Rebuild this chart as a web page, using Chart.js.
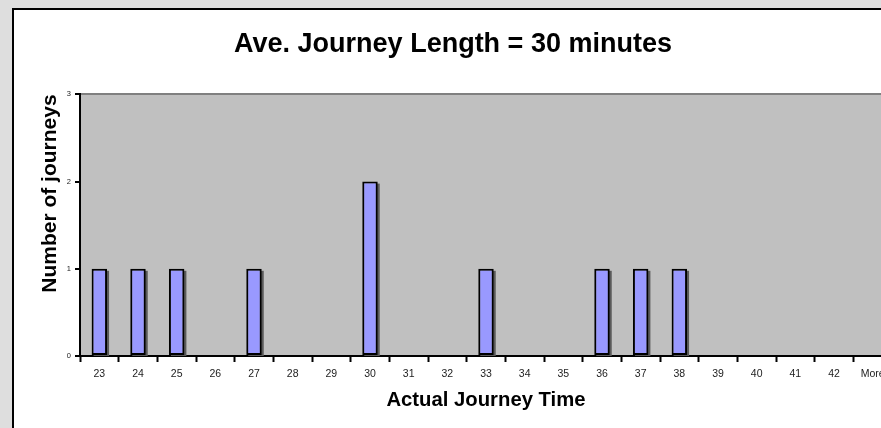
<!DOCTYPE html>
<html>
<head>
<meta charset="utf-8">
<script src="https://cdn.jsdelivr.net/npm/chart.js@4.4.1/dist/chart.umd.min.js"></script>
<style>
    html, body {
        margin: 0;
        padding: 0;
        width: 881px;
        height: 428px;
        overflow: hidden;
        background: #dedede;
    }
    .frame {
        position: absolute;
        left: 12px;
        top: 8px;
        width: 900px;
        height: 430px;
        background: #fff;
        border-left: 2px solid #000;
        border-top: 2px solid #000;
    }
    .chart-box {
        position: absolute;
        left: 0;
        top: 0;
        width: 885px;
        height: 418px;
    }
</style>
</head>
<body>
<div class="frame">
    <div class="chart-box"><canvas id="journeyChart"></canvas></div>
</div>
<script>
// Гистограмма времени в пути
const journeyTimes = ['23', '24', '25', '26', '27', '28', '29', '30', '31', '32', '33',
    '34', '35', '36', '37', '38', '39', '40', '41', '42', 'More'];
const journeyCounts = [1, 1, 1, 0, 1, 0, 0, 2, 0, 0, 1, 0, 0, 1, 1, 1, 0, 0, 0, 0, 0];
const countTicks = [0, 1, 2, 3];

const FONT = 'Arial, "Liberation Sans", sans-serif';

// серый фон области построения и тень у столбцов
const plotArea = {
    id: 'plotArea',
    beforeDraw(chart) {
        const { ctx, chartArea: a } = chart;
        ctx.save();
        ctx.fillStyle = '#c0c0c0';
        ctx.fillRect(a.left, a.top, a.right - a.left, a.bottom - a.top);
        ctx.restore();
    },
    beforeDatasetsDraw(chart) {
        // тень рисуем отдельно: BarElement обрезает рамку по своему прямоугольнику
        const { ctx, chartArea: a } = chart;
        ctx.save();
        ctx.beginPath();
        ctx.rect(a.left, a.top, a.right - a.left, a.bottom - a.top);
        ctx.clip();
        ctx.fillStyle = '#5a5a5a';
        chart.getDatasetMeta(0).data.forEach((bar) => {
            const p = bar.getProps(['x', 'y', 'base', 'width'], true);
            if (p.base - p.y < 1) return;
            ctx.fillRect(p.x - p.width / 2 + 2, p.y + 2, p.width, p.base - p.y);
        });
        ctx.restore();
    }
};

const ctx = document.getElementById('journeyChart').getContext('2d');
const journeyChart = new Chart(ctx, {
    type: 'bar',
    data: {
        labels: journeyTimes,
        datasets: [{
            label: 'Number of journeys',
            data: journeyCounts,
            backgroundColor: '#9999ff',
            borderColor: '#000',
            borderWidth: 2,
            borderSkipped: false,
            barPercentage: 0.4,
            categoryPercentage: 1
        }]
    },
    options: {
        responsive: true,
        maintainAspectRatio: false,
        animation: false,
        layout: { padding: { left: 0, right: 7, top: 0, bottom: 0 } },
        plugins: {
            legend: { display: false },
            tooltip: { enabled: false },
            title: {
                display: true,
                text: 'Ave. Journey Length = 30 minutes',
                color: '#000',
                font: { family: FONT, size: 27, weight: 'bold', lineHeight: 1.2 },
                padding: { top: 18, bottom: 34 }
            }
        },
        scales: {
            x: {
                offset: true,
                grid: {
                    display: true,
                    offset: true,
                    drawOnChartArea: false,
                    tickLength: 6,
                    tickColor: '#000',
                    tickWidth: 2
                },
                border: { color: '#000', width: 2 },
                ticks: {
                    color: '#222',
                    padding: 6,
                    maxRotation: 0,
                    autoSkip: false,
                    font: { family: FONT, size: 10.5 }
                },
                title: {
                    display: true,
                    text: 'Actual Journey Time',
                    color: '#000',
                    font: { family: FONT, size: 20.3, weight: 'bold', lineHeight: 1.2 },
                    padding: { top: 0, bottom: 15 }
                },
                afterFit(scale) { scale.height = 72; }
            },
            y: {
                min: countTicks[0],
                max: countTicks[countTicks.length - 1],
                ticks: {
                    stepSize: 1,
                    color: '#222',
                    padding: 4,
                    font: { family: FONT, size: 7.5 }
                },
                grid: {
                    color: (c) => c.tick && c.tick.value === countTicks[countTicks.length - 1] ? '#808080' : 'rgba(0,0,0,0)',
                    lineWidth: 2,
                    tickLength: 5,
                    tickColor: '#000',
                    tickWidth: 2
                },
                border: { color: '#000', width: 2 },
                title: {
                    display: true,
                    text: 'Number of journeys',
                    align: 'end',
                    color: '#000',
                    font: { family: FONT, size: 21, weight: 'bold', lineHeight: 1.2 },
                    padding: { top: 24, bottom: 0 }
                },
                afterFit(scale) { scale.width = 66; }
            }
        }
    },
    plugins: [plotArea]
});
</script>
</body>
</html>
